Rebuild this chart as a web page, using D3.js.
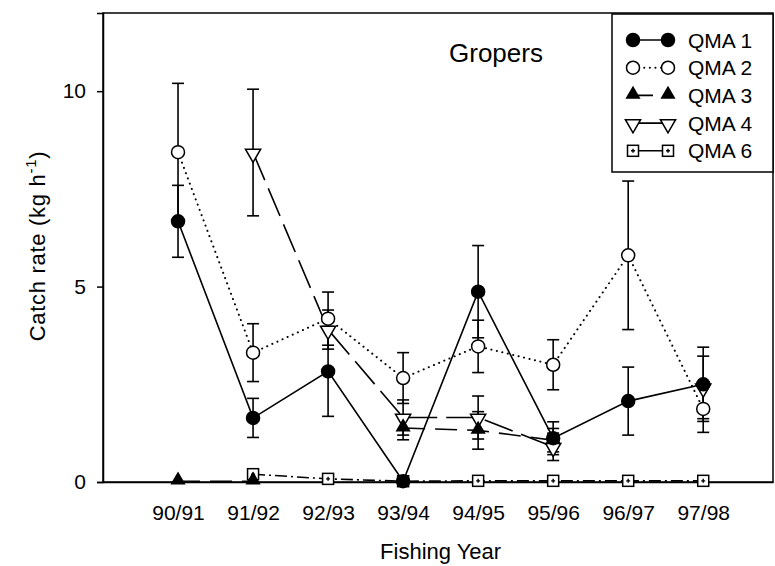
<!DOCTYPE html>
<html>
<head>
<meta charset="utf-8">
<script src="https://cdn.jsdelivr.net/npm/d3@7"></script>
<style>
  body { margin: 0; background: #fff; }
  text { font-family: "Liberation Sans", Arial, sans-serif; fill: #000; }
</style>
</head>
<body>
<div id="chart"></div>
<script>
// 1: DATA
const years = ["90/91", "91/92", "92/93", "93/94", "94/95", "95/96", "96/97", "97/98"];

const qma1    = [6.67, 1.64, 2.83, 0.02, 4.87, 1.12, 2.07, 2.5];
const qma1Err = [0.92, 0.5, 1.15, 0, 1.18, 0.42, 0.87, 0.95];

const qma2    = [8.44, 3.31, 4.18, 2.66, 3.47, 3.0, 5.8, 1.87];
const qma2Err = [1.76, 0.74, 0.68, 0.65, 0.67, 0.64, 1.9, 0.6];

const qma3    = [0.02, 0.02, null, 1.38, 1.32, 1.07, null, null];
const qma3Err = [0, 0, null, 0.3, 0.48, 0.3, null, null];

const qma4    = [null, 8.43, 3.9, 1.65, 1.65, 0.9, null, 2.42];
const qma4Err = [null, 1.62, 0.5, 0.45, 0.55, 0.35, null, 0.8];

const qma6    = [null, 0.2, 0.08, 0.02, 0.03, 0.03, 0.03, 0.03];
const qma6Err = [null, 0, 0, 0, 0, 0, 0, 0];

const yTicks = [0, 5, 10];

// series definitions (style only)
const series = [
	{ name: "QMA 1", values: qma1, err: qma1Err, marker: "circleFilled", dash: null },
	{ name: "QMA 2", values: qma2, err: qma2Err, marker: "circleOpen", dash: "dot" },
	{ name: "QMA 3", values: qma3, err: qma3Err, marker: "triUp", dash: "22,10" },
	{ name: "QMA 4", values: qma4, err: qma4Err, marker: "triDown", dash: "30,9" },
	{ name: "QMA 6", values: qma6, err: qma6Err, marker: "square", dash: "12,4,2,4" }
];

// 2: SVG SETUP
const margin = { top: 13, right: 2, bottom: 84, left: 103 };
const width = 775 - margin.left - margin.right;
const height = 566 - margin.top - margin.bottom;

const svg = d3.select("#chart")
	.append("svg")
		.attr("width", 775)
		.attr("height", 566);

const plot = svg.append("g")
	.attr("transform", `translate(${margin.left},${margin.top})`);

// 3: SCALES
const xScale = d3.scaleLinear()
	.domain([-1, 7.93])
	.range([0, width]);

const yScale = d3.scaleLinear()
	.domain([0, 12])
	.range([height, 0]);

// 4: FRAME AND AXES
plot.append("rect")
	.attr("x", 0).attr("y", 0)
	.attr("width", width).attr("height", height)
	.attr("fill", "none")
	.attr("stroke", "#000")
	.attr("stroke-width", 1.5);

const yAxis = plot.append("g")
	.call(d3.axisLeft(yScale).tickValues(yTicks).tickSize(6).tickPadding(11));
yAxis.select(".domain").attr("stroke-width", 1.5);
yAxis.selectAll(".tick line").attr("stroke-width", 1.5);
yAxis.selectAll(".tick text")
	.style("font-size", "21px")
	.style("font-family", "'Liberation Sans', Arial, sans-serif");

const xAxis = plot.append("g")
	.attr("transform", `translate(0,${height})`)
	.call(d3.axisBottom(xScale)
		.tickValues(d3.range(years.length))
		.tickSize(0)
		.tickPadding(23)
		.tickFormat(i => years[i]));
xAxis.select(".domain").attr("stroke-width", 1.5);
xAxis.selectAll(".tick text")
	.style("font-size", "21px")
	.style("font-family", "'Liberation Sans', Arial, sans-serif");

// 5: LINES
const line = d3.line()
	.defined(d => d.v !== null)
	.x(d => xScale(d.i))
	.y(d => yScale(d.v));

const toPoints = s => s.values.map((v, i) => ({ i, v, e: s.err[i] }));

function styleLine(sel, s) {
	const dotted = s.dash === "dot";
	sel.attr("fill", "none")
		.attr("stroke", "#000")
		.attr("stroke-width", dotted ? 2 : 1.6)
		.attr("stroke-linecap", dotted ? "round" : "butt")
		.attr("stroke-dasharray", dotted ? "0.1,5.5" : s.dash);
}

series.slice().reverse().forEach(s => {
	plot.append("path")
		.datum(toPoints(s))
		.attr("d", line)
		.call(styleLine, s);
});

// 6: ERROR BARS
const cap = 6;
series.forEach(s => {
	const pts = toPoints(s).filter(d => d.v !== null && d.e > 0);
	const g = plot.append("g").attr("stroke", "#000").attr("stroke-width", 1.6);
	pts.forEach(d => {
		const x = xScale(d.i);
		const lo = yScale(Math.max(0, d.v - d.e));
		const hi = yScale(d.v + d.e);
		g.append("line").attr("x1", x).attr("x2", x).attr("y1", lo).attr("y2", hi);
		g.append("line").attr("x1", x - cap).attr("x2", x + cap).attr("y1", lo).attr("y2", lo);
		g.append("line").attr("x1", x - cap).attr("x2", x + cap).attr("y1", hi).attr("y2", hi);
	});
});

// 7: MARKERS
const triPath = d3.symbol().type(d3.symbolTriangle).size(100)();

function drawMarker(g, type, x, y) {
	if (type === "circleFilled" || type === "circleOpen") {
		g.append("circle")
			.attr("cx", x).attr("cy", y).attr("r", 6.5)
			.attr("fill", type === "circleFilled" ? "#000" : "#fff")
			.attr("stroke", "#000").attr("stroke-width", 1.5);
	} else if (type === "triUp") {
		g.append("path")
			.attr("d", triPath)
			.attr("transform", `translate(${x},${y - 1})`)
			.attr("fill", "#000");
	} else if (type === "triDown") {
		g.append("path")
			.attr("d", triPath)
			.attr("transform", `translate(${x},${y + 1}) rotate(180)`)
			.attr("fill", "#fff")
			.attr("stroke", "#000").attr("stroke-width", 1.5);
	} else if (type === "square") {
		g.append("rect")
			.attr("x", x - 5.5).attr("y", y - 5.5)
			.attr("width", 11).attr("height", 11)
			.attr("fill", "#fff")
			.attr("stroke", "#000").attr("stroke-width", 1.5);
		g.append("path")
			.attr("d", `M${x - 2},${y}H${x + 2}M${x},${y - 2}V${y + 2}`)
			.attr("stroke", "#000").attr("stroke-width", 1.4);
	}
}

series.slice().reverse().forEach(s => {
	const g = plot.append("g");
	toPoints(s).filter(d => d.v !== null).forEach(d => {
		drawMarker(g, s.marker, xScale(d.i), yScale(d.v));
	});
});

// 8: LABELS
plot.append("text")
	.attr("x", 393)
	.attr("y", 49)
	.attr("text-anchor", "middle")
	.style("font-size", "26px")
	.text("Gropers");

svg.append("text")
	.attr("x", margin.left + xScale(3.5))
	.attr("y", 559)
	.attr("text-anchor", "middle")
	.style("font-size", "22px")
	.text("Fishing Year");

const yTitle = svg.append("text")
	.attr("transform", "translate(45,246) rotate(-90)")
	.attr("text-anchor", "middle")
	.style("font-size", "22px")
	.style("letter-spacing", "0.7px");
yTitle.append("tspan").text("Catch rate (kg h");
yTitle.append("tspan").attr("dy", -9).style("font-size", "15px").text("-1");
yTitle.append("tspan").attr("dy", 9).text(")");

// 9: LEGEND
const legend = plot.append("g");
legend.append("rect")
	.attr("x", 509).attr("y", 1)
	.attr("width", width - 509).attr("height", 158)
	.attr("fill", "#fff")
	.attr("stroke", "#000")
	.attr("stroke-width", 1.5);

series.forEach((s, i) => {
	const y = 27 + i * 27.7;
	const x1 = 530, x2 = 565;
	legend.append("line")
		.attr("x1", x1).attr("x2", x2).attr("y1", y).attr("y2", y)
		.call(styleLine, s)
		.attr("stroke-dasharray", s.dash === "dot" ? "0.1,5.5" : (s.marker === "triUp" ? "20,12" : null));
	drawMarker(legend, s.marker, x1, y);
	drawMarker(legend, s.marker, x2, y);
	legend.append("text")
		.attr("x", 585)
		.attr("y", y)
		.attr("dy", "0.36em")
		.style("font-size", "21px")
		.text(s.name);
});
</script>
</body>
</html>
